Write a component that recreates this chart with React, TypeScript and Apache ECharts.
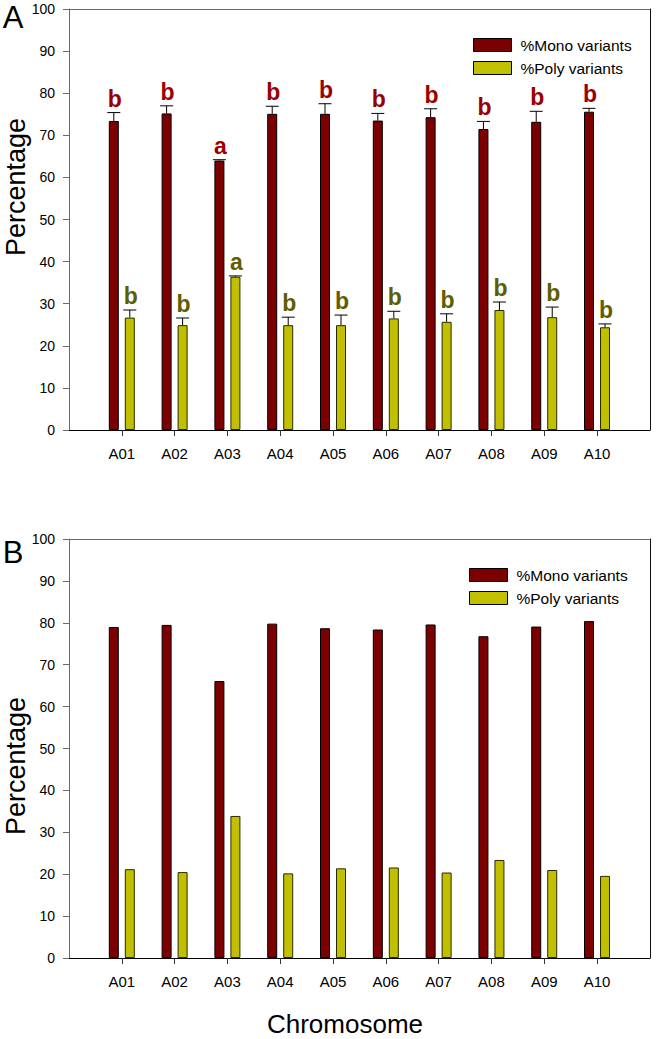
import React, { useEffect, useRef } from "react";
import * as echarts from "echarts";

const categories = ["A01", "A02", "A03", "A04", "A05", "A06", "A07", "A08", "A09", "A10"];
const axisCategories = [" ", ...categories, "  "];
const yTicks = [0, 100, 10];

const monoA = [73.4, 75.2, 64.0, 75.1, 75.1, 73.5, 74.3, 71.5, 73.2, 75.6];
const monoAErr = [2.0, 1.8, 0.2, 1.8, 2.4, 1.7, 2.0, 1.8, 2.5, 0.8];
const monoALetters = ["b", "b", "a", "b", "b", "b", "b", "b", "b", "b"];
const polyA = [26.7, 24.9, 36.4, 24.9, 24.9, 26.5, 25.7, 28.5, 26.8, 24.4];
const polyAErr = [1.8, 1.7, 0.2, 1.9, 2.4, 1.7, 1.9, 1.9, 2.4, 0.8];
const polyALetters = ["b", "b", "a", "b", "b", "b", "b", "b", "b", "b"];

const monoB = [79.0, 79.5, 66.1, 79.8, 78.7, 78.4, 79.6, 76.8, 79.1, 80.4];
const polyB = [21.2, 20.5, 33.9, 20.2, 21.4, 21.6, 20.4, 23.4, 21.0, 19.6];

const seriesNames = ["%Mono variants", "%Poly variants"];

const FONT = '"Liberation Sans", Arial, sans-serif';
const MONO = "#7d0000";
const POLY = "#c0c000";
const MONO_TXT = "#9a0000";
const POLY_TXT = "#5e5e00";

function buildOption() {
  const grids = [
    { left: 69, top: 9, width: 587, height: 421 },
    { left: 69, top: 539, width: 587, height: 419 },
  ];

  const xAxes: any[] = [];
  const yAxes: any[] = [];
  grids.forEach((_, g) => {
    xAxes.push({
      type: "category",
      gridIndex: g,
      data: axisCategories,
      boundaryGap: false,
      axisLine: { show: true, lineStyle: { color: "#000", width: 1 } },
      axisTick: {
        show: true,
        length: 6,
        inside: false,
        interval: (i: number) => i >= 1 && i <= categories.length,
        lineStyle: { color: "#333" },
      },
      axisLabel: { interval: 0, margin: 16, fontSize: 15, color: "#000", fontFamily: FONT },
      splitLine: { show: false },
    });
    xAxes.push({
      type: "value",
      gridIndex: g,
      position: "top",
      min: 0,
      max: 1,
      axisLine: { show: true, onZero: false, lineStyle: { color: "#6a6a6a", width: 1 } },
      axisTick: { show: false },
      axisLabel: { show: false },
      splitLine: { show: false },
    });
    yAxes.push({
      type: "value",
      gridIndex: g,
      min: yTicks[0],
      max: yTicks[1],
      interval: yTicks[2],
      axisLine: { show: true, lineStyle: { color: "#6a6a6a", width: 1 } },
      axisTick: { show: true, length: 6, inside: false, lineStyle: { color: "#6a6a6a" } },
      axisLabel: { margin: 14, fontSize: 14, color: "#000", fontFamily: FONT },
      splitLine: { show: false },
    });
    yAxes.push({
      type: "value",
      gridIndex: g,
      position: "right",
      min: 0,
      max: 100,
      axisLine: { show: true, onZero: false, lineStyle: { color: "#111", width: 1 } },
      axisTick: { show: false },
      axisLabel: { show: false },
      splitLine: { show: false },
    });
  });

  const barCommon = {
    type: "bar",
    barWidth: 10,
    barGap: "60%",
  };

  const monoStyle = { color: MONO, borderColor: "#000", borderWidth: 1 };
  const polyStyle = { color: POLY, borderColor: "#2a2a00", borderWidth: 1 };

  const errSeries = (
    name: string,
    values: number[],
    errs: number[],
    letters: string[],
    offset: number,
    txtColor: string
  ) => ({
    type: "custom",
    name,
    xAxisIndex: 0,
    yAxisIndex: 0,
    z: 10,
    clip: false,
    encode: { x: 0, y: 1 },
    data: categories.map((c, i) => [c, values[i], errs[i]]),
    renderItem: (params: any, api: any) => {
      const idx = api.value(0);
      const v = api.value(1);
      const e = api.value(2);
      const base = api.coord([idx, v]);
      const top = api.coord([idx, v + e]);
      const cx = base[0] + offset;
      const letter = letters[params.dataIndex];
      return {
        type: "group",
        children: [
          {
            type: "line",
            shape: { x1: cx, y1: base[1], x2: cx, y2: top[1] },
            style: { stroke: "#000", lineWidth: 1 },
          },
          {
            type: "line",
            shape: { x1: cx - 6.5, y1: top[1], x2: cx + 6.5, y2: top[1] },
            style: { stroke: "#000", lineWidth: 1 },
          },
          {
            type: "text",
            x: cx + 1,
            y: top[1] - 14,
            style: {
              text: letter,
              fill: txtColor,
              font: `bold 23px ${FONT}`,
              align: "center",
              verticalAlign: "middle",
            },
          },
        ],
      };
    },
  });

  const series: any[] = [
    {
      ...barCommon,
      name: seriesNames[0],
      xAxisIndex: 0,
      yAxisIndex: 0,
      itemStyle: monoStyle,
      data: categories.map((c, i) => [c, monoA[i]]),
    },
    {
      ...barCommon,
      name: seriesNames[1],
      xAxisIndex: 0,
      yAxisIndex: 0,
      itemStyle: polyStyle,
      data: categories.map((c, i) => [c, polyA[i]]),
    },
    errSeries("errMonoA", monoA, monoAErr, monoALetters, -8, MONO_TXT),
    errSeries("errPolyA", polyA, polyAErr, polyALetters, 8, POLY_TXT),
    {
      ...barCommon,
      name: seriesNames[0],
      xAxisIndex: 2,
      yAxisIndex: 2,
      itemStyle: monoStyle,
      data: categories.map((c, i) => [c, monoB[i]]),
    },
    {
      ...barCommon,
      name: seriesNames[1],
      xAxisIndex: 2,
      yAxisIndex: 2,
      itemStyle: polyStyle,
      data: categories.map((c, i) => [c, polyB[i]]),
    },
  ];

  const legendCommon = {
    orient: "vertical",
    data: seriesNames,
    icon: "rect",
    itemWidth: 38,
    itemHeight: 13,
    itemGap: 7,
    padding: 0,
    selectedMode: false,
    itemStyle: { borderColor: "#000", borderWidth: 1 },
    textStyle: { fontSize: 15.5, color: "#000", fontFamily: FONT, padding: [0, 0, 0, 4] },
  };

  const titleText = (text: string, x: number, y: number, size: number, rot = 0) => ({
    type: "text",
    x,
    y,
    rotation: rot,
    style: {
      text,
      fill: "#000",
      font: `${size}px ${FONT}`,
      align: "center",
      verticalAlign: "middle",
    },
  });

  return {
    animation: false,
    backgroundColor: "#fff",
    grid: grids.map((g) => ({ ...g, containLabel: false })),
    xAxis: xAxes,
    yAxis: yAxes,
    legend: [
      { ...legendCommon, left: 473, top: 37 },
      { ...legendCommon, left: 469, top: 567 },
    ],
    graphic: [
      titleText("A", 13, 17, 31),
      titleText("B", 13, 552, 31),
      titleText("Percentage", 16, 187, 27, Math.PI / 2),
      titleText("Percentage", 16, 766, 27, Math.PI / 2),
      titleText("Chromosome", 345, 1024, 26),
    ],
    series,
  };
}

export default function App() {
  const ref = useRef<HTMLDivElement>(null);
  useEffect(() => {
    document.body.style.margin = "0";
    if (!ref.current) return;
    const chart = echarts.init(ref.current, undefined, { renderer: "svg" });
    chart.setOption(buildOption() as any);
    return () => chart.dispose();
  }, []);
  return <div ref={ref} style={{ width: 657, height: 1039 }} />;
}
